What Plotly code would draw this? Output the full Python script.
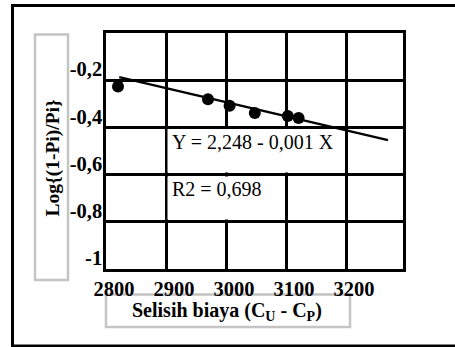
import plotly.graph_objects as go

# data
x_points = [2820, 2970, 3006, 3048, 3103, 3121]
y_points = [-0.227, -0.281, -0.308, -0.339, -0.352, -0.360]
trend_x = [2822, 3270]
trend_y = [-0.187, -0.454]
x_ticks = [2800, 2900, 3000, 3100, 3200]
x_tick_labels = ["2800", "2900", "3000", "3100", "3200"]
y_ticks = [-1, -0.8, -0.6, -0.4, -0.2]
y_tick_labels = ["-1", "-0,8", "-0,6", "-0,4", "-0,2"]
eq_text = "Y = 2,248 - 0,001 X"
r2_text = "R2 = 0,698"
x_title = "Selisih biaya (C<sub>U</sub> - C<sub>P</sub>)"
y_title = "Log{(1-Pi)/Pi}"

W, H = 455, 347
L, R, T, B = 106, 52, 33, 78
PW, PH = W - L - R, H - T - B
XR = [2800, 3295]
YR = [-1, 0]

def px(xp):
    return (xp - L) / PW

def py(yp):
    return (H - B - yp) / PH

def dx(xp):
    return XR[0] + px(xp) * (XR[1] - XR[0])

def dy(yp):
    return YR[0] + py(yp) * (YR[1] - YR[0])

SERIF = "Liberation Serif, Times New Roman, serif"

fig = go.Figure()
fig.add_trace(go.Scatter(x=trend_x, y=trend_y, mode="lines",
                         line=dict(color="black", width=2.5), showlegend=False,
                         hoverinfo="skip"))
fig.add_trace(go.Scatter(x=x_points, y=y_points, mode="markers",
                         marker=dict(color="black", size=12), showlegend=False))

frame = dict(color="black", width=3)
shapes = [
    # outer frame (left, top, bottom edges)
    dict(type="line", xref="paper", yref="paper", x0=px(12.5), x1=px(12.5),
         y0=py(4), y1=py(347.5), line=frame, layer="below"),
    dict(type="line", xref="paper", yref="paper", x0=px(11), x1=px(455),
         y0=py(5.5), y1=py(5.5), line=frame, layer="below"),
    dict(type="line", xref="paper", yref="paper", x0=px(11), x1=px(455),
         y0=py(346), y1=py(346), line=frame, layer="below"),
    # y title box
    dict(type="rect", xref="paper", yref="paper", x0=px(35), x1=px(68),
         y0=py(34.5), y1=py(280), line=dict(color="#c4c4c4", width=2.5), layer="below"),
    # x title box
    dict(type="rect", xref="paper", yref="paper", x0=px(106), x1=px(350),
         y0=py(294.5), y1=py(327), line=dict(color="#c4c4c4", width=2.5), layer="below"),
    # white boxes behind text labels (hide gridlines)
    dict(type="rect", xref="x", yref="y", x0=dx(167.5), x1=dx(343.5),
         y0=dy(129), y1=dy(172.5), fillcolor="white", line=dict(width=0), layer="between"),
    dict(type="rect", xref="x", yref="y", x0=dx(167.5), x1=dx(283.5),
         y0=dy(176.5), y1=dy(219.5), fillcolor="white", line=dict(width=0), layer="between"),
]

annotations = [
    dict(text=eq_text, xref="paper", yref="paper", x=px(170), y=py(141.5),
         xanchor="left", yanchor="middle", showarrow=False,
         font=dict(family=SERIF, size=20, color="black")),
    dict(text=r2_text, xref="paper", yref="paper", x=px(170), y=py(188.5),
         xanchor="left", yanchor="middle", showarrow=False,
         font=dict(family=SERIF, size=20, color="black")),
    dict(text="<b>" + y_title + "</b>", xref="paper", yref="paper", x=px(52.5), y=py(158),
         xanchor="center", yanchor="middle", textangle=-90, showarrow=False,
         font=dict(family=SERIF, size=19.5, color="black")),
    dict(text="<b>" + x_title + "</b>", xref="paper", yref="paper", x=px(226.5), y=py(311),
         xanchor="center", yanchor="middle", showarrow=False,
         font=dict(family=SERIF, size=20, color="black")),
]

fig.update_layout(
    width=W, height=H,
    margin=dict(l=L, r=R, t=T, b=B, pad=0),
    paper_bgcolor="white", plot_bgcolor="white",
    shapes=shapes, annotations=annotations,
    showlegend=False,
    xaxis=dict(range=XR, tickvals=x_ticks, ticktext=["<b>" + t + "</b>" for t in x_tick_labels],
               showgrid=True, gridcolor="black", gridwidth=2.5,
               showline=True, linecolor="black", linewidth=2.5, mirror=True,
               zeroline=False, ticks="", ticklabelshift=8,
               tickfont=dict(family=SERIF, size=20.5, color="black")),
    yaxis=dict(range=YR, tickvals=y_ticks, ticktext=["<b>" + t + "</b>" for t in y_tick_labels],
               showgrid=True, gridcolor="black", gridwidth=2.5,
               showline=True, linecolor="black", linewidth=2.5, mirror=True,
               zeroline=False, ticks="", ticklabelshift=-11, ticklabelstandoff=-3,
               tickfont=dict(family=SERIF, size=20.5, color="black")),
)

fig.write_html("out.html", config={"displayModeBar": False},
               post_script="document.body.style.margin='0';document.body.style.overflow='hidden';"
                           "document.documentElement.style.overflow='hidden';")
